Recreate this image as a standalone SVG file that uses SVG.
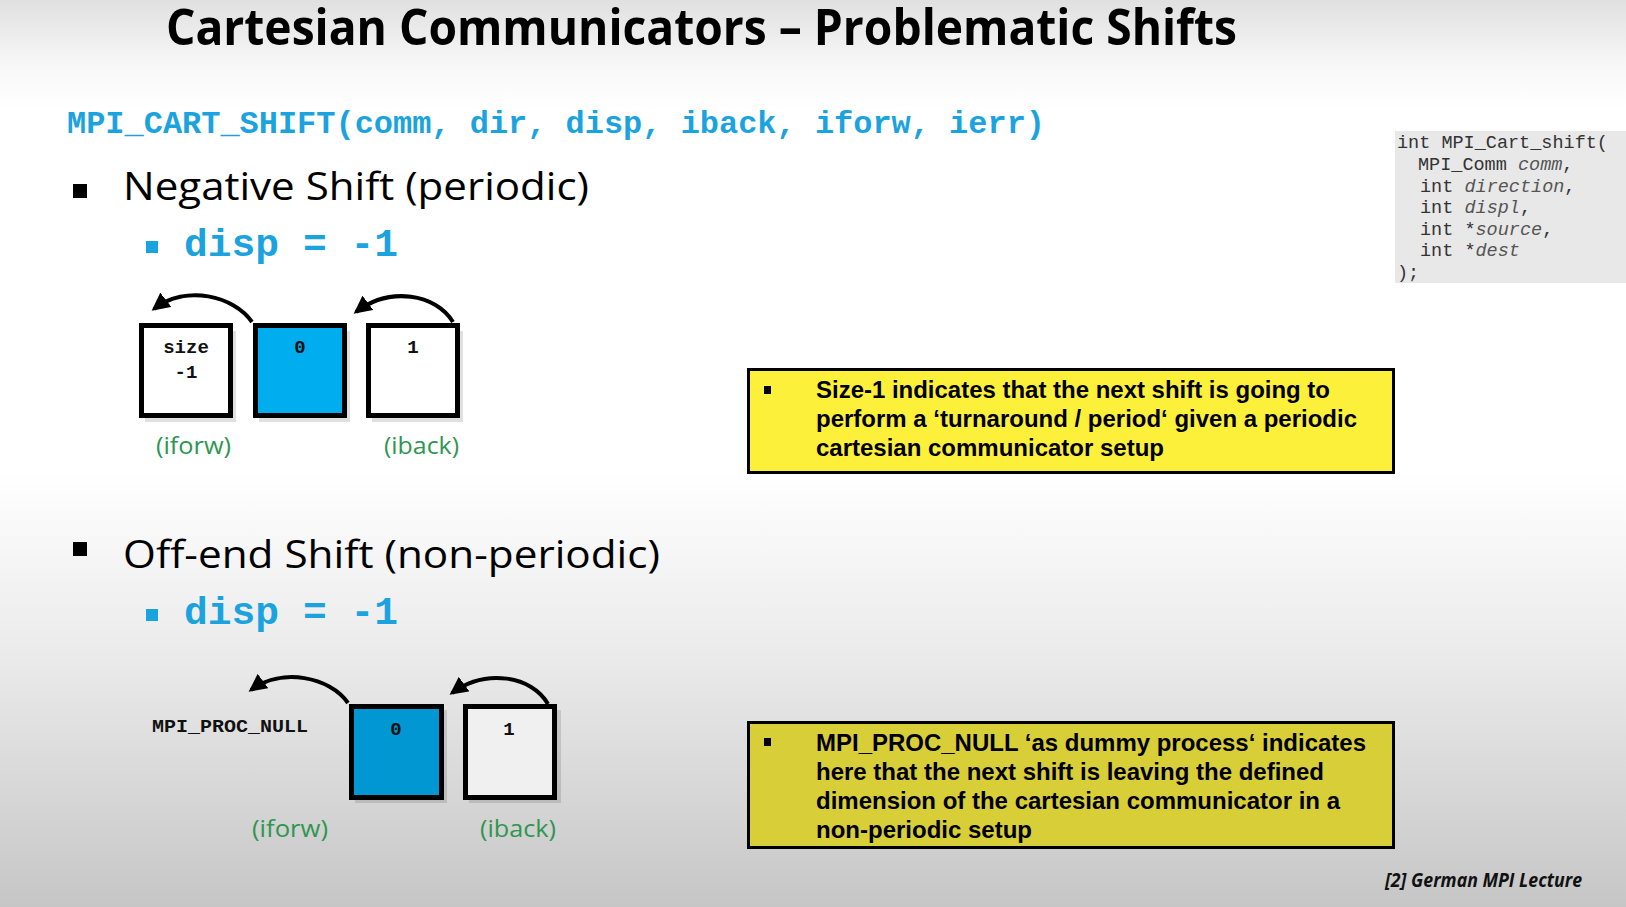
<svg xmlns="http://www.w3.org/2000/svg" width="1626" height="907" viewBox="0 0 1626 907">
<defs>
<linearGradient id="bg" x1="0" y1="0" x2="0" y2="1">
<stop offset="0" stop-color="#e0e0e0"/>
<stop offset="0.07" stop-color="#f7f7f7"/>
<stop offset="0.12" stop-color="#ffffff"/>
<stop offset="0.52" stop-color="#ffffff"/>
<stop offset="0.72" stop-color="#ebebeb"/>
<stop offset="1" stop-color="#c6c6c6"/>
</linearGradient>
<marker id="ah" markerUnits="userSpaceOnUse" markerWidth="20" markerHeight="18" refX="15" refY="9" orient="auto">
<path d="M0,0 L18,9 L0,18 Z" fill="#000"/>
</marker>
</defs>
<style>
.title{font-family:"Open Sans","Liberation Sans",sans-serif;font-weight:700;font-size:50px;fill:#000}
.code{font-family:"Liberation Mono","Courier New",monospace;font-weight:700;fill:#1ba3e0}
.head{font-family:"Open Sans","Liberation Sans",sans-serif;font-size:38px;fill:#000}
.box{stroke:#000;stroke-width:5}
.lbl{font-family:"Liberation Mono",monospace;font-weight:700;font-size:19px;fill:#111;text-anchor:middle}
.grn{font-family:"Open Sans","Liberation Sans",sans-serif;font-size:24px;fill:#2e9650}
.note{font-family:"Liberation Sans",Arial,sans-serif;font-weight:700;font-size:24px;fill:#000}
.sig{font-family:"Liberation Mono","Courier New",monospace;font-size:18.5px;fill:#333}
.it{font-style:italic;fill:#555}
.arrow{fill:none;stroke:#000;stroke-width:4;marker-end:url(#ah)}
.shadow{fill:#000;opacity:0.12}
</style>
<rect x="0" y="0" width="1626" height="907" fill="url(#bg)"/>

<text class="title" x="166" y="45" textLength="1071" lengthAdjust="spacingAndGlyphs">Cartesian Communicators – Problematic Shifts</text>

<text class="code" x="67" y="133" font-size="31.3" textLength="978" lengthAdjust="spacingAndGlyphs">MPI_CART_SHIFT(comm, dir, disp, iback, iforw, ierr)</text>

<g id="sig">
<rect x="1395" y="131" width="231" height="152" fill="#e8e8e8"/>
<text class="sig" x="1397" y="148">int MPI_Cart_shift(</text>
<text class="sig" x="1418" y="170">MPI_Comm <tspan class="it">comm</tspan>,</text>
<text class="sig" x="1420" y="192">int <tspan class="it">direction</tspan>,</text>
<text class="sig" x="1420" y="213">int <tspan class="it">displ</tspan>,</text>
<text class="sig" x="1420" y="235">int *<tspan class="it">source</tspan>,</text>
<text class="sig" x="1420" y="256">int *<tspan class="it">dest</tspan></text>
<text class="sig" x="1397" y="278">);</text>
</g>

<g id="sec1">
<rect x="73" y="184" width="14" height="14" fill="#000"/>
<text class="head" x="123" y="200" textLength="466" lengthAdjust="spacingAndGlyphs">Negative Shift (periodic)</text>
<rect x="146" y="241" width="12" height="12" fill="#1ba3e0"/>
<text class="code" x="184" y="256" font-size="39" textLength="214" lengthAdjust="spacingAndGlyphs">disp = -1</text>
</g>

<g id="connectors">
<path class="arrow" d="M252,322 C234,296 186,284 154,309"/>
<path class="arrow" d="M453,322 C436,294 390,286 356,312"/>
<path class="arrow" d="M348,703 C330,677 282,667 251,690"/>
<path class="arrow" d="M548,704 C532,676 486,668 452,693"/>
</g>

<g id="n_size">
<rect class="shadow" x="145" y="331" width="91" height="91"/>
<rect class="box" x="141.5" y="325.5" width="89" height="90" fill="#ffffff"/>
<text class="lbl" x="186" y="353">size</text>
<text class="lbl" x="186" y="378">-1</text>
</g>
<g id="n0_a">
<rect class="shadow" x="259" y="331" width="91" height="91"/>
<rect class="box" x="255.5" y="325.5" width="89" height="90" fill="#00aeef"/>
<text class="lbl" x="300" y="353">0</text>
</g>
<g id="n1_a">
<rect class="shadow" x="372" y="331" width="91" height="91"/>
<rect class="box" x="368.5" y="325.5" width="89" height="90" fill="#ffffff"/>
<text class="lbl" x="413" y="353">1</text>
</g>
<text class="grn" x="156" y="454" textLength="75" lengthAdjust="spacingAndGlyphs">(iforw)</text>
<text class="grn" x="384" y="454" textLength="75" lengthAdjust="spacingAndGlyphs">(iback)</text>

<g id="note1">
<rect x="748.5" y="369.5" width="645" height="103" fill="#fdf03b" stroke="#000" stroke-width="3"/>
<rect x="764" y="386" width="7" height="8" fill="#000"/>
<text class="note" x="816" y="398" textLength="514" lengthAdjust="spacingAndGlyphs">Size-1 indicates that the next shift is going to</text>
<text class="note" x="816" y="427" textLength="541" lengthAdjust="spacingAndGlyphs">perform a ‘turnaround / period‘ given a periodic</text>
<text class="note" x="816" y="456" textLength="348" lengthAdjust="spacingAndGlyphs">cartesian communicator setup</text>
</g>

<g id="sec2">
<rect x="73" y="542" width="14" height="14" fill="#000"/>
<text class="head" x="123" y="568" textLength="537" lengthAdjust="spacingAndGlyphs">Off-end Shift (non-periodic)</text>
<rect x="146" y="609" width="12" height="12" fill="#1ba3e0"/>
<text class="code" x="184" y="624" font-size="39" textLength="214" lengthAdjust="spacingAndGlyphs">disp = -1</text>
</g>

<g id="n_null">
<text class="lbl" x="230" y="732" font-size="19" textLength="156" lengthAdjust="spacingAndGlyphs">MPI_PROC_NULL</text>
</g>
<g id="n0_b">
<rect class="shadow" x="355" y="710" width="92" height="93"/>
<rect class="box" x="351.5" y="706.5" width="90" height="91" fill="#0097d3"/>
<text class="lbl" x="396" y="735">0</text>
</g>
<g id="n1_b">
<rect class="shadow" x="469" y="710" width="92" height="93"/>
<rect class="box" x="465.5" y="706.5" width="89" height="91" fill="#f0f0f0"/>
<text class="lbl" x="509" y="735">1</text>
</g>
<text class="grn" x="252" y="837" textLength="76" lengthAdjust="spacingAndGlyphs">(iforw)</text>
<text class="grn" x="480" y="837" textLength="76" lengthAdjust="spacingAndGlyphs">(iback)</text>

<g id="note2">
<rect x="748.5" y="722.5" width="645" height="125" fill="#d8ce38" stroke="#000" stroke-width="3"/>
<rect x="764" y="738" width="7" height="8" fill="#000"/>
<text class="note" x="816" y="751" textLength="550" lengthAdjust="spacingAndGlyphs">MPI_PROC_NULL ‘as dummy process‘ indicates</text>
<text class="note" x="816" y="780" textLength="508" lengthAdjust="spacingAndGlyphs">here that the next shift is leaving the defined</text>
<text class="note" x="816" y="809" textLength="524" lengthAdjust="spacingAndGlyphs">dimension of the cartesian communicator in a</text>
<text class="note" x="816" y="838" textLength="216" lengthAdjust="spacingAndGlyphs">non-periodic setup</text>
</g>

<text x="1385" y="887" font-family="Open Sans, Liberation Sans, sans-serif" font-weight="700" font-style="italic" font-size="19" fill="#111" textLength="197" lengthAdjust="spacingAndGlyphs">[2] German MPI Lecture</text>
</svg>
